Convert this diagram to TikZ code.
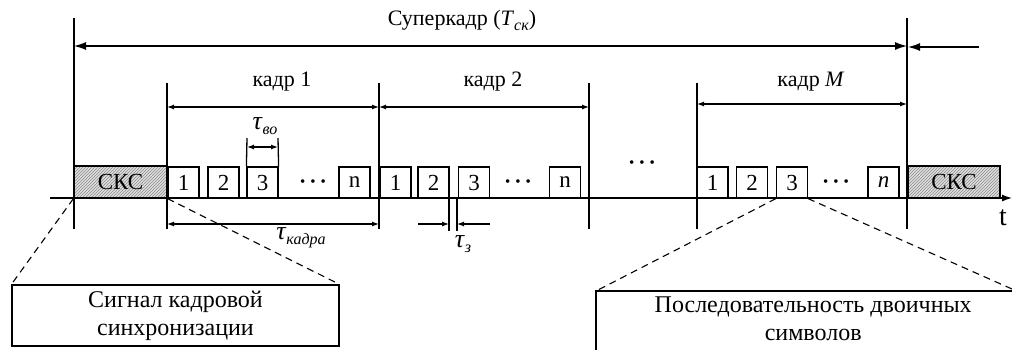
\documentclass[tikz,border=0pt]{standalone}
\usepackage{fontspec}
\setmainfont{Liberation Serif}
\usetikzlibrary{arrows.meta,patterns}
\newcommand\mysub[1]{\raisebox{-5pt}{\fontsize{16}{16}\selectfont\textit{#1}}}
\newcommand\mytau{{\fontsize{26}{26}\selectfont\textit{τ}}}
\newcommand\mydots{{\fontsize{15}{15}\selectfont •\hspace{5pt}•\hspace{5pt}•}}
\begin{document}
\begin{tikzpicture}[x=1pt,y=-1pt,
  every node/.style={font=\fontsize{22}{26}\selectfont},
  ln/.style={line width=1.3pt},
  slot/.style={draw,line width=1.2pt,minimum width=31pt,minimum height=31pt,inner sep=0pt,fill=white,font=\fontsize{23}{26}\selectfont},
  sksbox/.style={draw,line width=1.2pt,minimum height=32pt,inner sep=0pt,font=\fontsize{23}{26}\selectfont,
     preaction={fill=gray!25},pattern=north east lines,pattern color=gray!90},
  callout/.style={align=center,inner sep=0pt,font=\fontsize{24}{28}\selectfont},
  dim/.style={line width=1.2pt,{Latex[length=7pt,width=5pt]}-{Latex[length=7pt,width=5pt]}},
  dimr/.style={line width=1.2pt,-{Latex[length=7pt,width=5pt]}},
  big/.style={line width=1.2pt,{Latex[length=12pt,width=8pt]}-{Latex[length=12pt,width=8pt]}},
  bigr/.style={line width=1.2pt,-{Latex[length=12pt,width=8pt]}},
  dsh/.style={line width=1.1pt,dash pattern=on 7pt off 5pt},
  dots/.style={inner sep=0pt}
]
\useasboundingbox (0,0) rectangle (1012,349);
\clip (0,0) rectangle (1012,349);

% vertical frame boundaries
\coordinate (v0t) at (74,18);   \coordinate (v0b) at (74,229);
\coordinate (v1t) at (167,83);  \coordinate (v1b) at (167,229);
\coordinate (v2t) at (379,83);  \coordinate (v2b) at (379,229);
\coordinate (v3t) at (589,83);  \coordinate (v3b) at (589,229);
\coordinate (v4t) at (697,83);  \coordinate (v4b) at (697,229);
\coordinate (v5t) at (907,18);  \coordinate (v5b) at (907,229);
\foreach \i in {0,...,5} {\draw[ln] (v\i t) -- (v\i b);}

% time axis
\coordinate (ax0) at (50,198);
\coordinate (ax1) at (1012,198);
\draw[line width=1.2pt,-{Latex[length=10pt,width=7pt]}] (ax0) -- (ax1);
\node[font=\fontsize{28}{30}\selectfont] (t) at (1003,218) {t};

% sync blocks
\node[sksbox,minimum width=93pt] (sks1) at (120.5,182) {СКС};
\node[sksbox,minimum width=92pt] (sks2) at (954,182) {СКС};

% slots frame 1
\node[slot] (a1) at (183.5,182.5) {1};
\node[slot] (a2) at (223.5,182.5) {2};
\node[slot] (a3) at (262.5,182.5) {3};
\node[dots] (ad) at (313,183) {\mydots};
\node[slot] (an) at (354.5,182.5) {n};
% slots frame 2
\node[slot] (b1) at (395.5,182.5) {1};
\node[slot] (b2) at (433.5,182.5) {2};
\node[slot] (b3) at (474,182.5) {3};
\node[dots] (bd) at (518,183) {\mydots};
\node[slot] (bn) at (565,182.5) {n};
% middle dots
\node[dots] (md) at (642,164) {\mydots};
% slots frame M
\node[slot] (c1) at (712.5,182.5) {1};
\node[slot] (c2) at (752,182.5) {2};
\node[slot] (c3) at (792,182.5) {3};
\node[dots] (cd) at (836,183) {\mydots};
\node[slot] (cn) at (883.5,182.5) {\textit{n}};

% superframe
\coordinate (s0) at (74,46); \coordinate (s1) at (907,46);
\draw[big] (s0) -- (s1);
\coordinate (s2) at (979,47); \coordinate (s3) at (908,47);
\draw[bigr] (s2) -- (s3);
\node (sup) at (462,20) {Суперкадр (\textit{T}\mysub{ск})};

% frame arrows
\coordinate (k1a) at (167,107); \coordinate (k1b) at (379,107);
\coordinate (k2a) at (379,107); \coordinate (k2b) at (589,107);
\coordinate (kMa) at (697,104); \coordinate (kMb) at (907,104);
\draw[dim] (k1a) -- (k1b);
\draw[dim] (k2a) -- (k2b);
\draw[dim] (kMa) -- (kMb);
\node (l1) at (282,82) {кадр 1};
\node (l2) at (493,82) {кадр 2};
\node (lM) at (811,82) {кадр \textit{M}};

% tau_vo
\coordinate (tv1t) at (247,138); \coordinate (tv2t) at (278,138);
\draw[ln] (tv1t) -- (a3.north west);
\draw[ln] (tv2t) -- (a3.north east);
\coordinate (tva) at (247,147); \coordinate (tvb) at (278,147);
\draw[dim] (tva) -- (tvb);
\node (tvo) at (265,126) {\mytau\mysub{во}};

% tau_kadra
\coordinate (tka) at (167,224); \coordinate (tkb) at (379,224);
\draw[dim] (tka) -- (tkb);
\node (tk) at (301,238) {\mytau\mysub{кадра}};

% tau_z
\coordinate (tz1t) at (449,198); \coordinate (tz1b) at (449,231);
\coordinate (tz2t) at (457,198); \coordinate (tz2b) at (457,231);
\draw[line width=1.2pt] (tz1t) -- (tz1b);
\draw[line width=1.2pt] (tz2t) -- (tz2b);
\coordinate (tza) at (418,224); \coordinate (tzb) at (449,224);
\coordinate (tzc) at (490,224); \coordinate (tzd) at (457,224);
\draw[dimr] (tza) -- (tzb);
\draw[dimr] (tzc) -- (tzd);
\node (tz) at (463,244) {\mytau\mysub{з}};

% callout boxes
\node[callout,draw,line width=1.2pt,minimum width=327pt,minimum height=61pt]
   (sig) at (175.5,315.5) {Сигнал кадровой\\[0pt]синхронизации};
\node[callout,minimum width=434pt,minimum height=56pt,anchor=north west]
   (seq) at (596,291) {Последовательность двоичных\\[0pt]символов};
\draw[line width=1.2pt] ([yshift=-20pt]seq.south west) -- (seq.north west) -- (seq.north east);
\coordinate (seqr) at (1012,289);

\draw[dsh] (sks1.south west) -- (sig.north west);
\draw[dsh] (sks1.south east) -- (sig.north east);
\draw[dsh] (c3.south west) -- (seq.north west);
\draw[dsh] (c3.south east) -- (seqr);
\end{tikzpicture}
\end{document}
